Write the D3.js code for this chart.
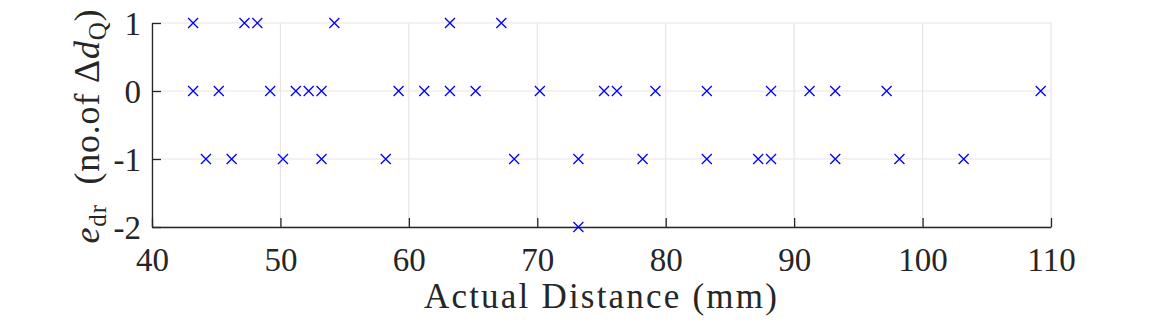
<!DOCTYPE html>
<html lang="en">
<head>
    <meta charset="UTF-8">
    <title>Document</title>
    <style>
        body { margin: 0; background: #fff; }
    </style>
</head>
<body>
<script src="https://d3js.org/d3.v7.min.js"></script>
<script>
// data, one list per error level
let distPlus1 = [43.2, 47.2, 48.2, 54.2, 63.2, 67.2];
let dist0 = [43.2, 45.2, 49.2, 51.2, 52.2, 53.2, 59.2, 61.2, 63.2, 65.2, 70.2, 75.2, 76.2, 79.2, 83.2, 88.2, 91.2, 93.2, 97.2, 109.2];
let distMinus1 = [44.2, 46.2, 50.2, 53.2, 58.2, 68.2, 73.2, 78.2, 83.2, 87.2, 88.2, 93.2, 98.2, 103.2];
let distMinus2 = [73.2];
let xTicks = [40, 50, 60, 70, 80, 90, 100, 110];
let yTicks = [-2, -1, 0, 1];

let dataset = [];
distPlus1.forEach(d => dataset.push([d, 1]));
dist0.forEach(d => dataset.push([d, 0]));
distMinus1.forEach(d => dataset.push([d, -1]));
distMinus2.forEach(d => dataset.push([d, -2]));

let svgWidth = 1163;
let svgHeight = 322;
let padL = 152, padR = 1051, padT = 23, padB = 227;
let axisColor = '#262626';
let gridColor = '#e5e5e5';
let font = '"Liberation Serif", "Times New Roman", serif';

let xScale = d3.scaleLinear().domain([40, 110]).range([padL, padR]);
let yScale = d3.scaleLinear().domain([-2, 1]).range([padB, padT]);

let svg = d3.select('body')
    .append('svg')
    .attr('width', svgWidth)
    .attr('height', svgHeight);

// grid
svg.append('g').selectAll('line')
    .data(xTicks)
    .enter().append('line')
    .attr('x1', d => xScale(d)).attr('x2', d => xScale(d))
    .attr('y1', padT).attr('y2', padB)
    .attr('stroke', gridColor).attr('stroke-width', 1.2);

svg.append('g').selectAll('line')
    .data(yTicks)
    .enter().append('line')
    .attr('x1', padL).attr('x2', padR)
    .attr('y1', d => yScale(d)).attr('y2', d => yScale(d))
    .attr('stroke', gridColor).attr('stroke-width', 1.2);

// axes, ticks pointing inward; plain hyphen for minus like the original
let xAxis = d3.axisBottom(xScale).tickValues(xTicks).tickSizeInner(-9).tickSizeOuter(0).tickPadding(20);
let yAxis = d3.axisLeft(yScale).tickValues(yTicks).tickFormat(d => String(d))
    .tickSizeInner(-9).tickSizeOuter(0).tickPadding(11);

let gx = svg.append('g')
    .attr('transform', 'translate(0,' + padB + ')')
    .call(xAxis);
let gy = svg.append('g')
    .attr('transform', 'translate(' + padL + ',0)')
    .call(yAxis);

[gx, gy].forEach(g => {
    g.select('.domain').attr('stroke', axisColor).attr('stroke-width', 1.3);
    g.selectAll('.tick line').attr('stroke', axisColor).attr('stroke-width', 1.3);
    g.selectAll('.tick text')
        .attr('fill', axisColor)
        .style('font-family', font)
        .style('font-size', '33px');
});
gx.selectAll('.tick text').attr('dy', '0.72em');
gy.selectAll('.tick text').attr('dy', '0.34em');

// markers
let s = 5;
let marks = svg.append('g').selectAll('.dot')
    .data(dataset)
    .enter().append('path')
    .attr('class', 'dot')
    .attr('d', d => {
        let cx = xScale(d[0]), cy = yScale(d[1]);
        return 'M' + (cx - s) + ',' + (cy - s) + 'L' + (cx + s) + ',' + (cy + s) +
            'M' + (cx - s) + ',' + (cy + s) + 'L' + (cx + s) + ',' + (cy - s);
    })
    .attr('stroke', '#0000ff')
    .attr('stroke-width', 1.3)
    .attr('fill', 'none');

// x label
svg.append('text')
    .attr('x', (padL + padR) / 2)
    .attr('y', 308)
    .attr('text-anchor', 'middle')
    .attr('fill', axisColor)
    .style('font-family', font)
    .style('font-size', '35px')
    .style('letter-spacing', '2.2px')
    .text('Actual Distance (mm)');

// y label
let yl = svg.append('text')
    .attr('transform', 'translate(99,' + ((padT + padB) / 2 + 1) + ') rotate(-90)')
    .attr('text-anchor', 'middle')
    .attr('fill', axisColor)
    .style('font-family', font)
    .style('font-size', '36px')
    .style('letter-spacing', '0.8px');
yl.append('tspan').style('font-style', 'italic').text('e');
yl.append('tspan').attr('dy', 7).style('font-size', '25px').text('dr');
yl.append('tspan').attr('dy', -7).text('\u00a0 (no.of \u0394');
yl.append('tspan').style('font-style', 'italic').text('d');
yl.append('tspan').attr('dy', 7).style('font-size', '25px').text('Q');
yl.append('tspan').attr('dy', -7).text(')');
</script>
</body>
</html>
